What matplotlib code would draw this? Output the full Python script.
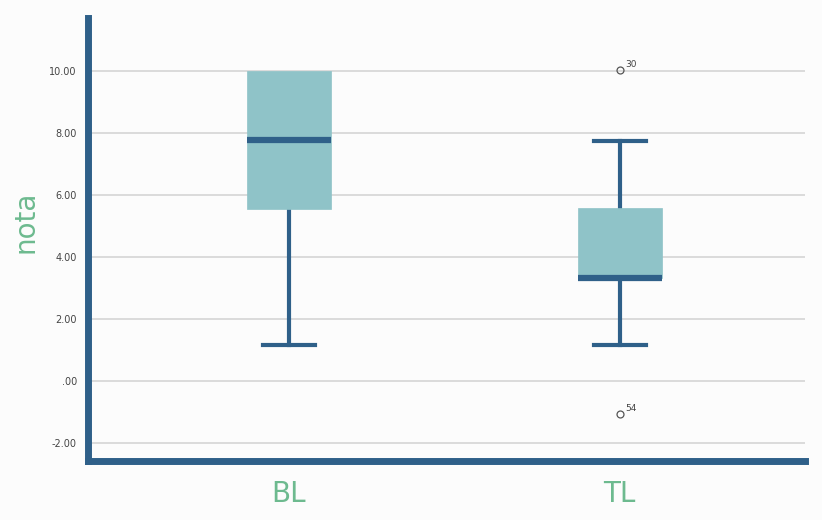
import matplotlib.pyplot as plt

groups = ["BL", "TL"]
q1 = [5.55, 3.32]
med = [7.77, 3.32]
q3 = [10.0, 5.58]
whislo = [1.16, 1.16]
whishi = [10.0, 7.74]
outliers = [[], [10.03, -1.06]]
outlier_ids = [[], ["30", "54"]]

yticks = [-2, 0, 2, 4, 6, 8, 10]
ytick_labels = ["-2.00", ".00", "2.00", "4.00", "6.00", "8.00", "10.00"]

dark = "#2f6089"
fill = "#8fc3c8"
green = "#6dba8f"

fig = plt.figure(figsize=(8.22, 5.2), dpi=100, facecolor="#fcfcfc")
ax = fig.add_axes([0.107, 0.1135, 0.872, 0.8515], facecolor="#fcfcfc")

stats = []
for i in range(len(groups)):
    stats.append({"label": groups[i], "q1": q1[i], "med": med[i], "q3": q3[i],
                  "whislo": whislo[i], "whishi": whishi[i], "fliers": outliers[i]})

bp = ax.bxp(stats, positions=[1, 2], widths=0.255, patch_artist=True,
            boxprops=dict(facecolor=fill, edgecolor=fill, linewidth=0.5, zorder=4),
            medianprops=dict(color=dark, linewidth=4.5, solid_capstyle="butt", zorder=5),
            whiskerprops=dict(color=dark, linewidth=3, zorder=3),
            capprops=dict(color=dark, linewidth=3, zorder=3),
            capwidths=0.157,
            flierprops=dict(marker="o", markersize=5, markerfacecolor="none",
                            markeredgecolor="#555555", markeredgewidth=0.9, zorder=3))

# no cap where the whisker ends on the box edge
for i in range(len(groups)):
    if whishi[i] == q3[i]:
        bp["caps"][2 * i + 1].set_visible(False)

# outlier case numbers
for i in range(len(groups)):
    for v, lab in zip(outliers[i], outlier_ids[i]):
        ax.annotate(lab, (i + 1, v), xytext=(4, 2), textcoords="offset points",
                    fontsize=6.5, color="#444444")

ax.set_xlim(0.393, 2.559)
ax.set_ylim(-2.58, 11.7)
ax.set_yticks(yticks)
ax.set_yticklabels(ytick_labels, fontsize=7, color="#444444")
ax.tick_params(axis="y", length=0, pad=8)
ax.tick_params(axis="x", length=0, pad=14, labelsize=20, labelcolor=green)
ax.set_xticks([1, 2])
ax.set_xticklabels(groups)
ax.yaxis.grid(True, color="#d5d5d5", linewidth=1.2, zorder=0)
ax.set_axisbelow(True)

for s in ["top", "right"]:
    ax.spines[s].set_visible(False)
for s in ["left", "bottom"]:
    ax.spines[s].set_color(dark)
    ax.spines[s].set_linewidth(5)

ax.set_ylabel("nota", fontsize=20, color=green)
ax.yaxis.set_label_coords(-0.068, 0.54)

fig.savefig("out.png", dpi=100, facecolor=fig.get_facecolor())
